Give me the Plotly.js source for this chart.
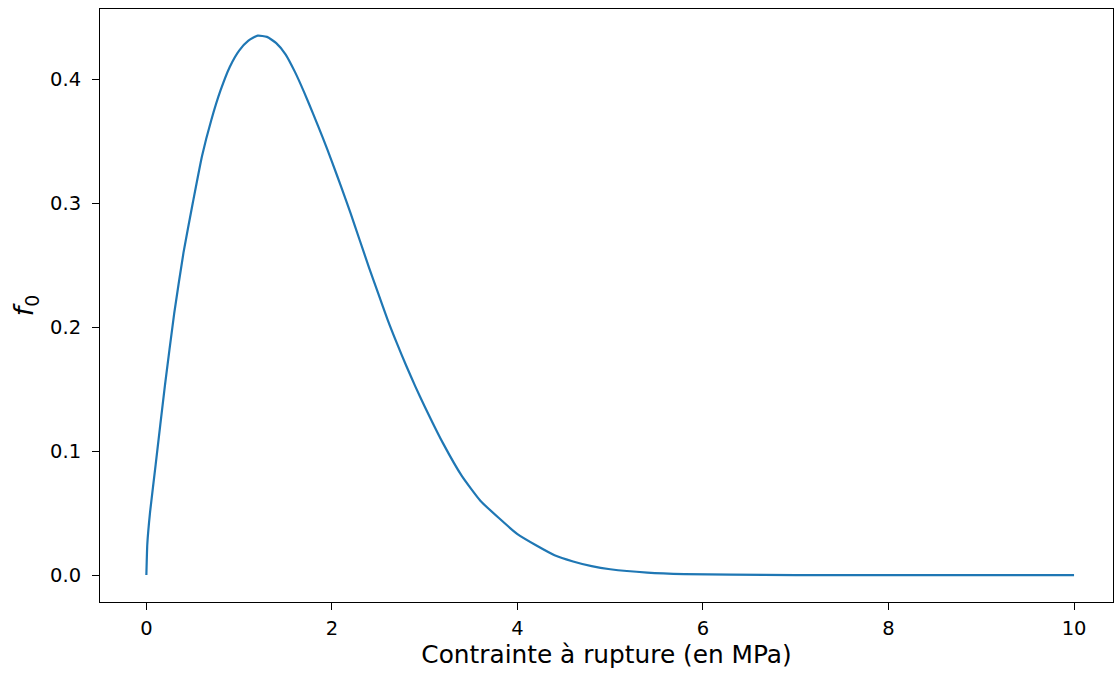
<!DOCTYPE html>
<html>
<head>
<meta charset="utf-8">
<script src="https://cdn.plot.ly/plotly-3.0.1.min.js"></script>
<style>html,body{margin:0;padding:0;background:#fff;}#chart{width:1115px;height:675px;}</style>
</head>
<body>
<div id="chart"></div>
<script>
// Contrainte à rupture (MPa)
const stress = [0, 0.01, 0.04, 0.1, 0.2, 0.3, 0.4, 0.5, 0.6, 0.7, 0.8, 0.9, 1.0, 1.1, 1.2, 1.3, 1.4, 1.5, 1.6, 1.7, 1.8, 1.9, 2.0, 2.1, 2.2, 2.3, 2.4, 2.5, 2.6, 2.7, 2.8, 2.9, 3.0, 3.2, 3.4, 3.6, 3.8, 4.0, 4.2, 4.4, 4.6, 4.8, 5.0, 5.4, 5.8, 6.3, 7.0, 8.0, 9.0, 10.0];
// f0 density
const f0 = [0, 0.025, 0.051, 0.089, 0.153, 0.211, 0.260, 0.300, 0.338, 0.367, 0.391, 0.410, 0.423, 0.431, 0.435, 0.434, 0.429, 0.420, 0.406, 0.3895, 0.3715, 0.353, 0.3335, 0.313, 0.292, 0.270, 0.248, 0.227, 0.206, 0.187, 0.169, 0.152, 0.136, 0.106, 0.080, 0.060, 0.046, 0.033, 0.024, 0.016, 0.011, 0.0072, 0.0047, 0.0020, 0.0008, 0.0003, 0.00005, 0, 0, 0];

const xTicks = [0, 2, 4, 6, 8, 10];
const yTicks = [0.0, 0.1, 0.2, 0.3, 0.4];
const yTickText = ['0.0', '0.1', '0.2', '0.3', '0.4'];

const trace = {
  x: stress, y: f0, type: 'scatter', mode: 'lines',
  line: {color: '#1f77b4', width: 2.2, shape: 'spline', smoothing: 0.5},
  hoverinfo: 'x+y'
};

const layout = {
  width: 1115, height: 675,
  margin: {l: 100, r: 2, t: 9, b: 73},
  paper_bgcolor: '#fff', plot_bgcolor: '#fff',
  showlegend: false,
  font: {family: 'DejaVu Sans', color: '#000'},
  xaxis: {
    range: [-0.5, 10.42],
    tickvals: xTicks, ticktext: xTicks.map(String),
    ticks: 'outside', ticklen: 7, tickwidth: 1, tickcolor: '#000',
    ticklabelstandoff: 2,
    showgrid: false, zeroline: false,
    showline: true, linecolor: '#000', linewidth: 1, mirror: true,
    tickfont: {size: 19.5, family: 'DejaVu Sans', color: '#000'},
    title: {text: 'Contrainte à rupture (en MPa)', font: {size: 24.8, family: 'DejaVu Sans', color: '#000'}, standoff: 6}
  },
  yaxis: {
    range: [-0.0217, 0.4565],
    tickvals: yTicks, ticktext: yTickText,
    ticks: 'outside', ticklen: 7, tickwidth: 1, tickcolor: '#000',
    ticklabelstandoff: 7,
    showgrid: false, zeroline: false,
    showline: true, linecolor: '#000', linewidth: 1, mirror: true,
    tickfont: {size: 19.5, family: 'DejaVu Sans', color: '#000'},
    title: {text: '<i>f</i><sub>0</sub>', font: {size: 27, family: 'DejaVu Sans', color: '#000'}, standoff: 8}
  }
};

Plotly.newPlot('chart', [trace], layout, {displayModeBar: false, staticPlot: true});
</script>
</body>
</html>
